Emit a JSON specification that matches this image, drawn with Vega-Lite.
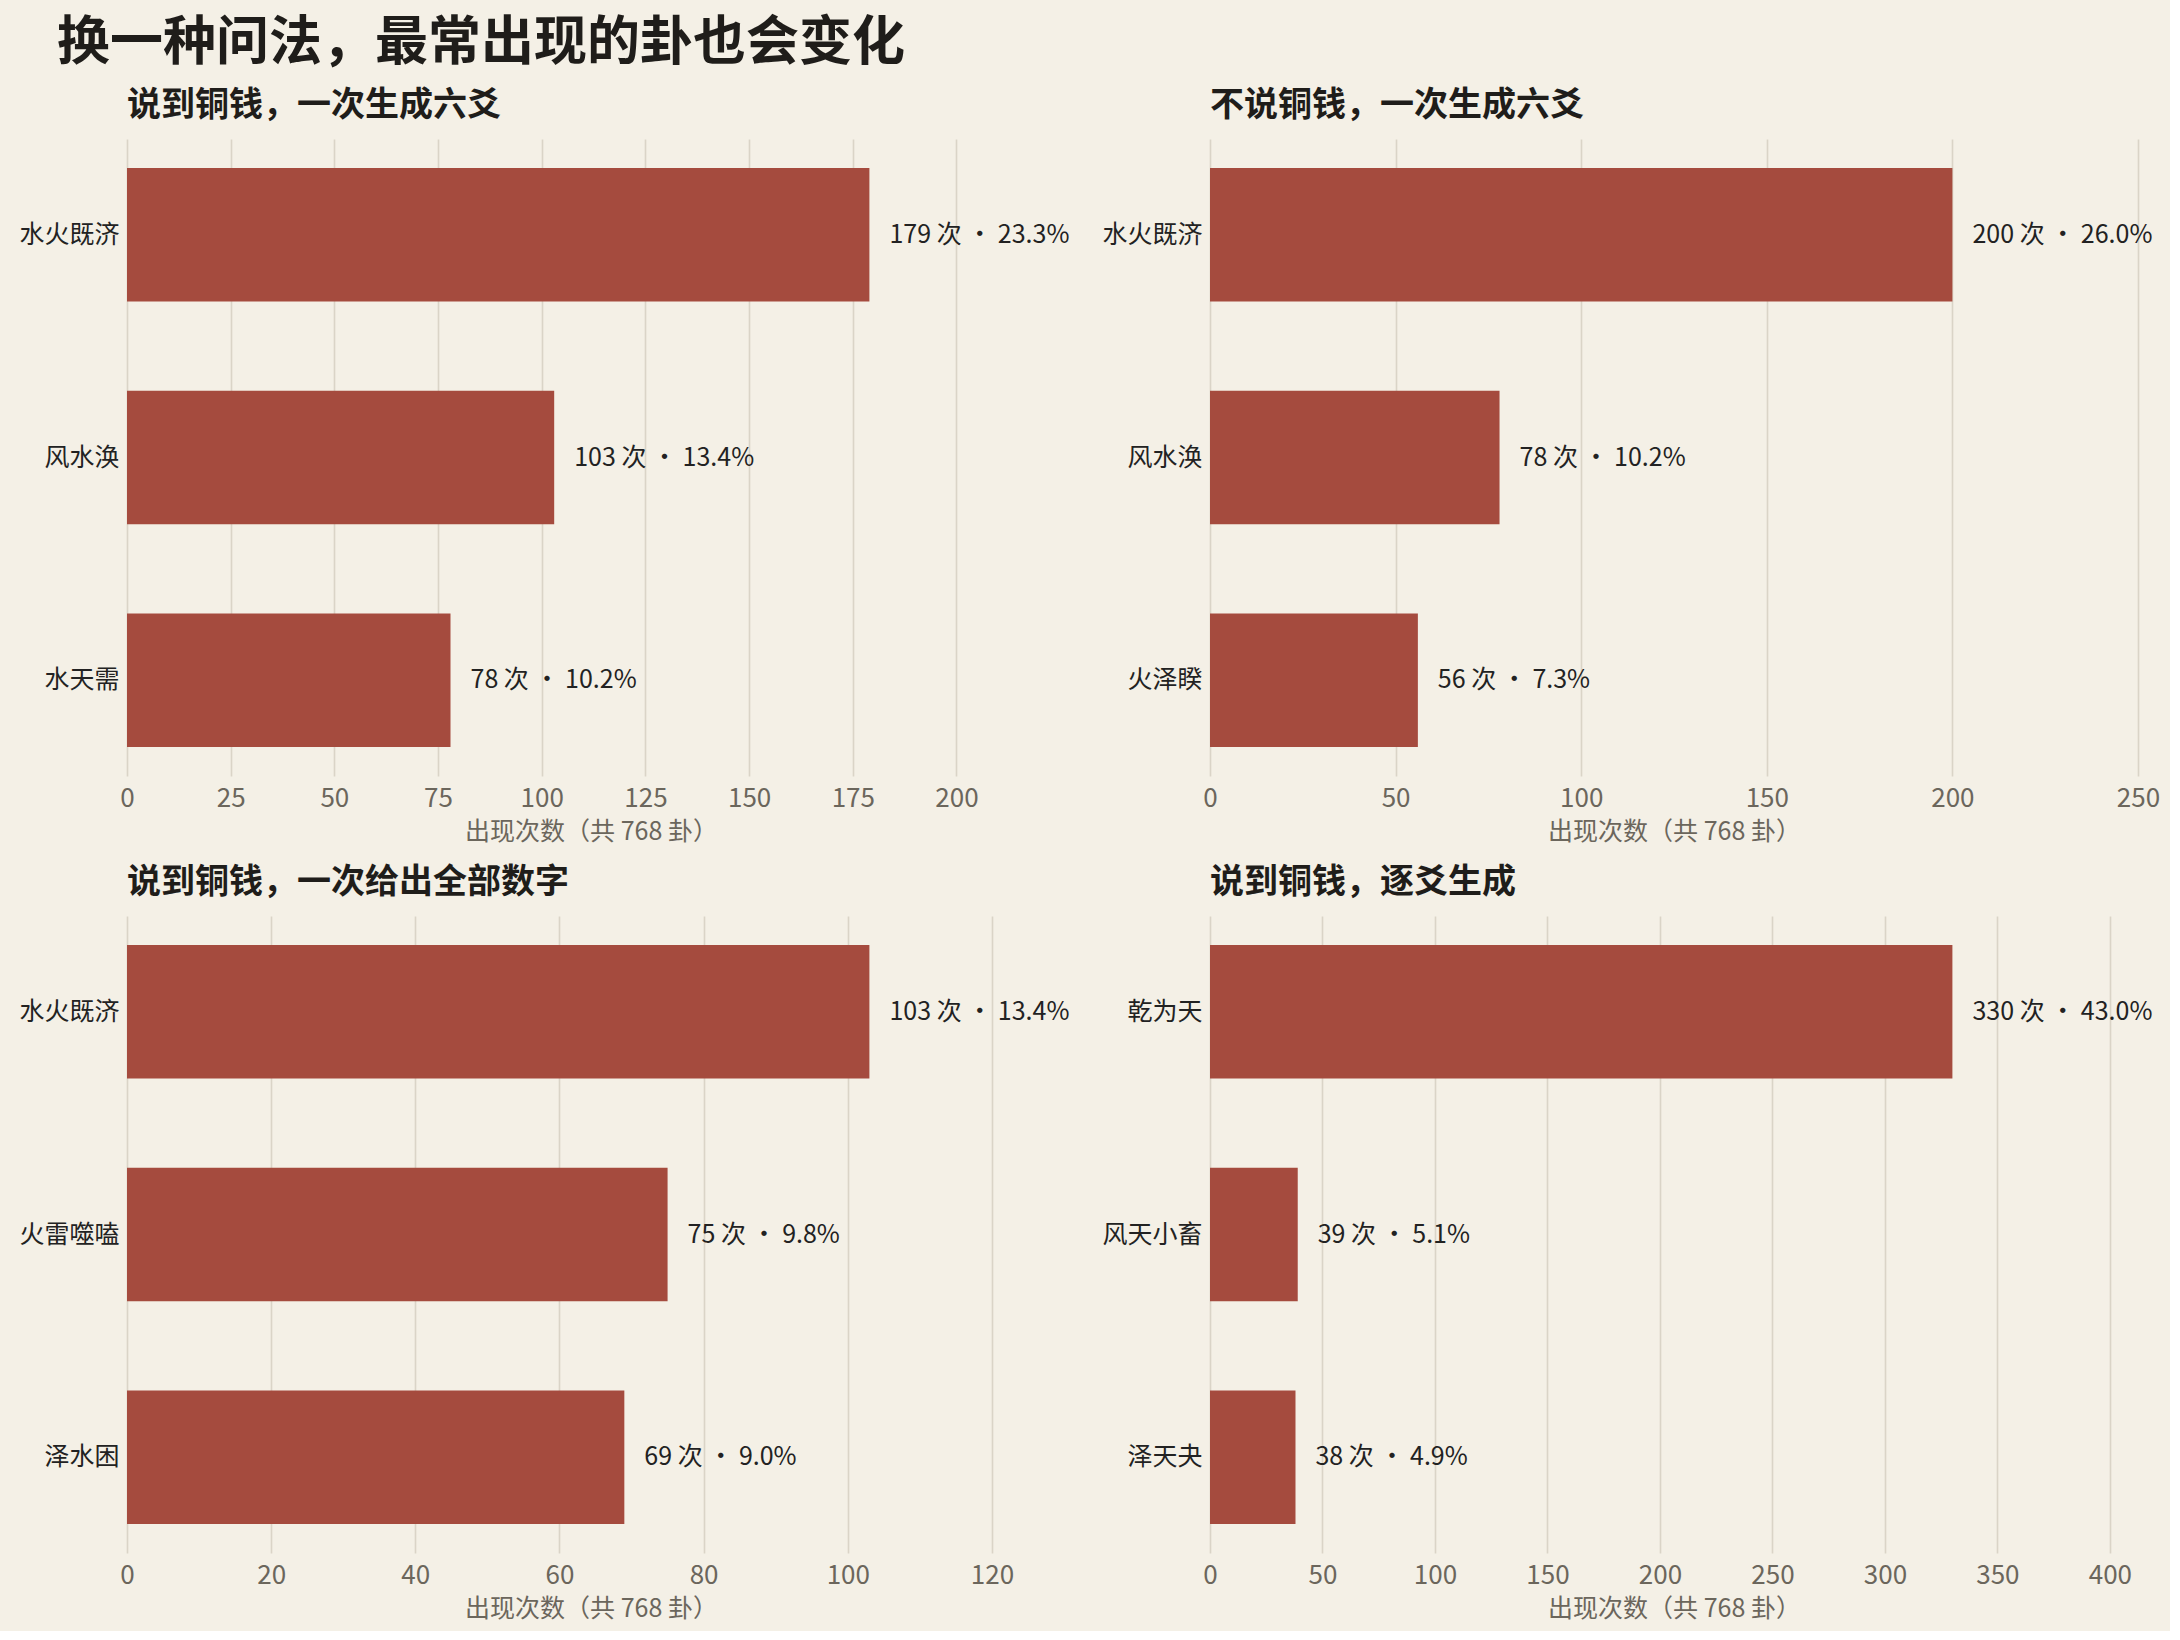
{
  "$schema": "https://vega.github.io/schema/vega-lite/v6.json",
  "background": "#f4f0e6",
  "padding": {"left": 18, "top": 18, "right": 10, "bottom": 10},
  "title": {"text": "换一种问法，最常出现的卦也会变化", "fontSize": 53, "fontWeight": "bold", "anchor": "start", "color": "#1f1d1a", "font": "Noto Sans CJK SC", "offset": 18, "frame": "bounds", "dx": 38},
  "config": {
    "view": {"stroke": null},
    "font": "Noto Sans CJK SC",
    "title": {"font": "Noto Sans CJK SC", "fontSize": 34, "fontWeight": "bold", "anchor": "start", "color": "#1f1d1a", "offset": 16, "frame": "group"},
    "axisX": {"grid": true, "gridColor": "#dad4c7", "gridWidth": 1.6, "ticks": false, "domain": false, "labelFlush": false, "labelFontSize": 26, "labelColor": "#6b665c", "labelFont": "Noto Sans CJK SC", "titleFont": "Noto Sans CJK SC", "titleColor": "#6b665c", "titleFontSize": 25, "titleFontWeight": "normal", "labelPadding": 9, "titlePadding": 8},
    "axisY": {"grid": false, "ticks": false, "domain": false, "labelFontSize": 25, "labelColor": "#222222", "labelFont": "Noto Sans CJK SC", "labelPadding": 8, "title": null}
  },
  "datasets": {
    "p1": [
      {"hexagram": "水火既济", "count": 179, "label": "179 次 ・ 23.3%"},
      {"hexagram": "风水涣", "count": 103, "label": "103 次 ・ 13.4%"},
      {"hexagram": "水天需", "count": 78, "label": "78 次 ・ 10.2%"}
    ],
    "p2": [
      {"hexagram": "水火既济", "count": 200, "label": "200 次 ・ 26.0%"},
      {"hexagram": "风水涣", "count": 78, "label": "78 次 ・ 10.2%"},
      {"hexagram": "火泽睽", "count": 56, "label": "56 次 ・ 7.3%"}
    ],
    "p3": [
      {"hexagram": "水火既济", "count": 103, "label": "103 次 ・ 13.4%"},
      {"hexagram": "火雷噬嗑", "count": 75, "label": "75 次 ・ 9.8%"},
      {"hexagram": "泽水困", "count": 69, "label": "69 次 ・ 9.0%"}
    ],
    "p4": [
      {"hexagram": "乾为天", "count": 330, "label": "330 次 ・ 43.0%"},
      {"hexagram": "风天小畜", "count": 39, "label": "39 次 ・ 5.1%"},
      {"hexagram": "泽天夬", "count": 38, "label": "38 次 ・ 4.9%"}
    ]
  },
  "columns": 2,
  "spacing": {"row": 140, "column": 155},
  "bounds": "flush",
  "concat": [
    {
      "title": "说到铜钱，一次生成六爻",
      "width": 928, "height": 637,
      "data": {"name": "p1"},
      "encoding": {
        "y": {"field": "hexagram", "type": "nominal", "sort": {"field": "count", "order": "descending"}, "scale": {"paddingInner": 0.4, "paddingOuter": 0.13}},
        "x": {"field": "count", "type": "quantitative", "scale": {"domain": [0, 223.75], "nice": false}, "axis": {"values": [0, 25, 50, 75, 100, 125, 150, 175, 200], "title": "出现次数（共 768 卦）"}}
      },
      "layer": [
        {"mark": {"type": "bar", "color": "#a54b3e"}},
        {"mark": {"type": "text", "align": "left", "baseline": "middle", "dx": 20, "fontSize": 25, "color": "#222222", "font": "Noto Sans CJK SC"}, "encoding": {"text": {"field": "label"}}}
      ]
    },
    {
      "title": "不说铜钱，一次生成六爻",
      "width": 928, "height": 637,
      "data": {"name": "p2"},
      "encoding": {
        "y": {"field": "hexagram", "type": "nominal", "sort": {"field": "count", "order": "descending"}, "scale": {"paddingInner": 0.4, "paddingOuter": 0.13}},
        "x": {"field": "count", "type": "quantitative", "scale": {"domain": [0, 250], "nice": false}, "axis": {"values": [0, 50, 100, 150, 200, 250], "title": "出现次数（共 768 卦）"}}
      },
      "layer": [
        {"mark": {"type": "bar", "color": "#a54b3e"}},
        {"mark": {"type": "text", "align": "left", "baseline": "middle", "dx": 20, "fontSize": 25, "color": "#222222", "font": "Noto Sans CJK SC"}, "encoding": {"text": {"field": "label"}}}
      ]
    },
    {
      "title": "说到铜钱，一次给出全部数字",
      "width": 928, "height": 637,
      "data": {"name": "p3"},
      "encoding": {
        "y": {"field": "hexagram", "type": "nominal", "sort": {"field": "count", "order": "descending"}, "scale": {"paddingInner": 0.4, "paddingOuter": 0.13}},
        "x": {"field": "count", "type": "quantitative", "scale": {"domain": [0, 128.75], "nice": false}, "axis": {"values": [0, 20, 40, 60, 80, 100, 120], "title": "出现次数（共 768 卦）"}}
      },
      "layer": [
        {"mark": {"type": "bar", "color": "#a54b3e"}},
        {"mark": {"type": "text", "align": "left", "baseline": "middle", "dx": 20, "fontSize": 25, "color": "#222222", "font": "Noto Sans CJK SC"}, "encoding": {"text": {"field": "label"}}}
      ]
    },
    {
      "title": "说到铜钱，逐爻生成",
      "width": 928, "height": 637,
      "data": {"name": "p4"},
      "encoding": {
        "y": {"field": "hexagram", "type": "nominal", "sort": {"field": "count", "order": "descending"}, "scale": {"paddingInner": 0.4, "paddingOuter": 0.13}},
        "x": {"field": "count", "type": "quantitative", "scale": {"domain": [0, 412.5], "nice": false}, "axis": {"values": [0, 50, 100, 150, 200, 250, 300, 350, 400], "title": "出现次数（共 768 卦）"}}
      },
      "layer": [
        {"mark": {"type": "bar", "color": "#a54b3e"}},
        {"mark": {"type": "text", "align": "left", "baseline": "middle", "dx": 20, "fontSize": 25, "color": "#222222", "font": "Noto Sans CJK SC"}, "encoding": {"text": {"field": "label"}}}
      ]
    }
  ]
}
